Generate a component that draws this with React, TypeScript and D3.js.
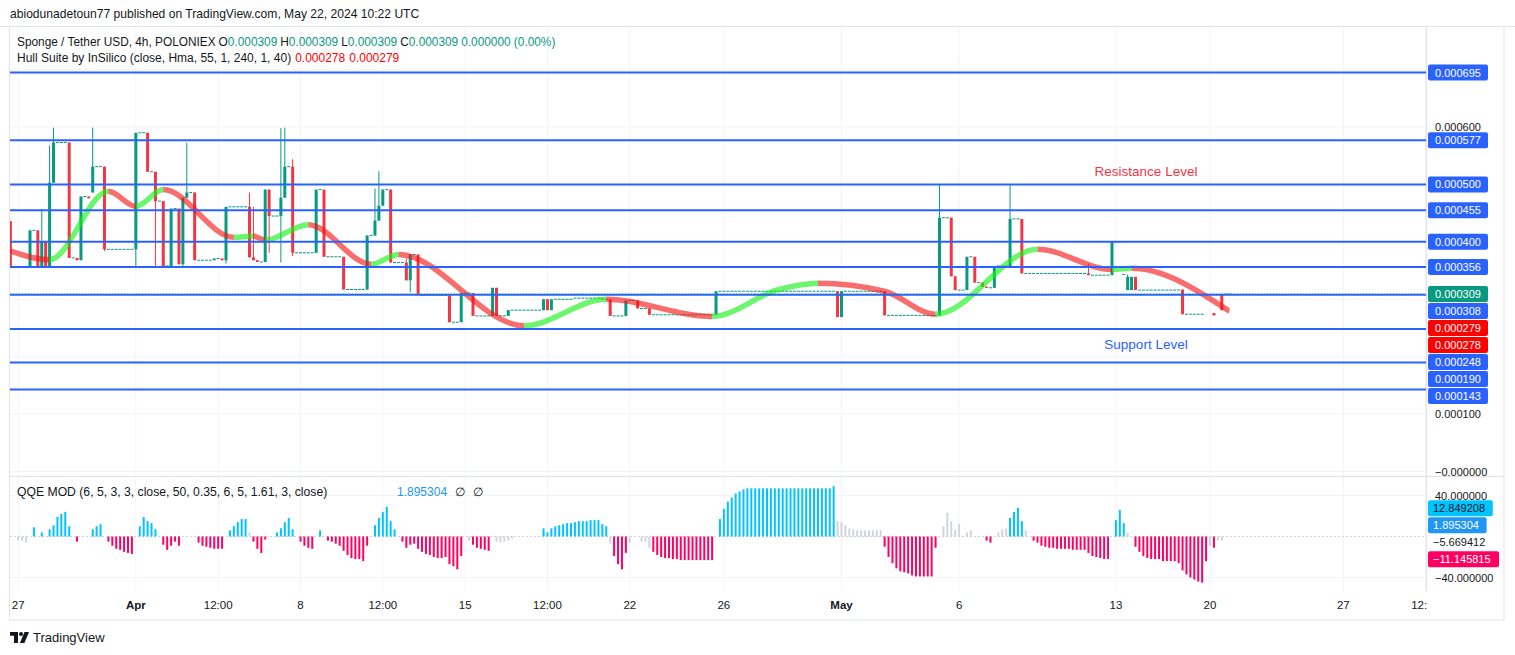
import React from 'react';
import * as d3 from 'd3';

// all prices are in units of 0.000001 USDT
const levelPrices = [695, 577, 500, 455, 400, 356, 308, 248, 190, 143];
const lastPrice = 309;
const hullLast = [279, 278];
const priceTicks = [700, 600, 500, 400, 300, 200, 100, 0];
const priceTickLabels = ['0.000700', '0.000600', '0.000500', '0.000400', '0.000300', '0.000200', '0.000100', '\u22120.000000'];

// bar index (4h bars) where each time label sits
const timeTickBars = [0, 30, 51, 72, 93, 114, 135, 156, 180, 210, 240, 280, 304, 338, 359];
const timeTickLabels = ['27', 'Apr', '12:00', '8', '12:00', '15', '12:00', '22', '26', 'May', '6', '13', '20', '27', '12:00'];
const monthLabels = ['Apr', 'May'];

// [bar, open, high, low, close]
const candles = [
  [-2, 436, 436, 357, 357], [3, 356, 420, 356, 420], [5, 420, 420, 356, 356], [6, 356, 457, 356, 401],
  [7, 401, 401, 356, 356], [8, 356, 568, 356, 503], [9, 503, 599, 503, 573], [13, 573, 573, 372, 372],
  [15, 372, 372, 368, 368], [16, 368, 479, 368, 479], [18, 479, 479, 476, 476], [19, 486, 599, 486, 531],
  [22, 531, 531, 384, 387], [30, 387, 590, 358, 590], [33, 590, 590, 522, 522], [35, 522, 522, 356, 471],
  [37, 471, 471, 358, 358], [39, 358, 458, 358, 458], [41, 458, 458, 361, 361], [42, 361, 477, 358, 477],
  [43, 477, 573, 477, 486], [45, 486, 486, 368, 368], [50, 368, 371, 368, 371], [52, 371, 371, 368, 368],
  [53, 368, 461, 362, 461], [59, 461, 486, 373, 373], [60, 373, 461, 368, 368], [61, 368, 368, 365, 365],
  [63, 365, 491, 365, 491], [64, 491, 491, 381, 445], [67, 445, 598, 364, 477], [68, 477, 599, 477, 531],
  [70, 531, 544, 375, 381], [76, 381, 491, 381, 491], [78, 491, 491, 374, 374], [83, 374, 374, 317, 317],
  [89, 317, 411, 317, 411], [91, 411, 493, 411, 437], [92, 437, 523, 437, 463], [93, 463, 491, 463, 491],
  [95, 491, 491, 364, 364], [99, 364, 371, 333, 333], [100, 333, 378, 312, 378], [102, 378, 378, 307, 307],
  [110, 307, 307, 260, 260], [113, 260, 311, 260, 311], [116, 311, 311, 271, 271], [121, 271, 320, 271, 320],
  [122, 320, 320, 271, 271], [125, 271, 281, 271, 281], [134, 281, 300, 281, 300], [135, 300, 300, 281, 281],
  [136, 281, 300, 281, 300], [149, 302, 302, 300, 300], [151, 300, 300, 271, 271], [155, 271, 298, 271, 298],
  [158, 298, 298, 284, 284], [161, 284, 284, 273, 273], [178, 273, 314, 273, 314], [209, 314, 314, 269, 269],
  [210, 269, 314, 269, 314], [221, 314, 314, 272, 272], [235, 272, 500, 272, 442], [238, 442, 442, 340, 340],
  [239, 340, 340, 316, 316], [242, 316, 374, 316, 374], [244, 374, 374, 329, 329], [246, 329, 329, 322, 322],
  [247, 322, 322, 320, 320], [249, 320, 358, 320, 358], [253, 355, 500, 355, 440], [256, 440, 440, 345, 345],
  [273, 345, 362, 342, 342], [279, 342, 400, 342, 400], [283, 316, 343, 316, 339], [284, 316, 339, 316, 339],
  [285, 339, 339, 316, 316], [297, 317, 317, 274, 274], [305, 276, 276, 272, 272], [307, 309, 309, 281, 281],
];

// runs of untraded bars (open = high = low = close): [firstBar, lastBar, price]
const flatRuns = [
  [-1, 2, 356], [4, 4, 420], [10, 12, 573], [14, 14, 372], [17, 17, 479], [20, 21, 531], [23, 29, 387],
  [31, 32, 590], [34, 34, 522], [36, 36, 471], [38, 38, 358], [40, 40, 458], [44, 44, 486], [46, 49, 368],
  [51, 51, 371], [54, 58, 461], [62, 62, 365], [65, 66, 445], [69, 69, 531], [71, 75, 381], [77, 77, 491],
  [79, 82, 374], [84, 88, 317], [90, 90, 411], [94, 94, 491], [96, 98, 364], [101, 101, 378], [103, 109, 307],
  [111, 112, 260], [114, 115, 311], [117, 120, 271], [123, 124, 271], [126, 133, 281], [137, 141, 300],
  [142, 148, 302], [150, 150, 300], [152, 154, 271], [156, 157, 298], [159, 160, 284], [162, 177, 273],
  [179, 208, 314], [211, 220, 314], [222, 234, 272], [236, 237, 442], [240, 241, 316], [243, 243, 374],
  [245, 245, 329], [248, 248, 320], [250, 252, 358], [254, 255, 440], [257, 272, 345], [274, 278, 342],
  [280, 281, 400], [282, 282, 343], [286, 296, 316], [298, 302, 274], [308, 309, 309],
];

// Hull Suite turning points: [bar, value]
const hullPoints = [
  [-2, 384], [8, 369], [23, 488], [30, 462], [37, 491], [55, 408], [60, 410], [63, 403], [74, 430],
  [90, 361], [97, 378], [129, 254], [150, 300], [177, 270], [194, 317], [204, 328], [221, 314],
  [234, 274], [260, 387], [279, 352], [284, 354], [309, 279],
];

// QQE MOD histogram, runs of consecutive bars
const qqeRuns: { start: number; kind: string; values: number[] }[] = [
  { start: 0, kind: 'nt', values: [-4, -4, -6] },
  { start: 4, kind: 'up', values: [9] },
  { start: 6, kind: 'up', values: [4] },
  { start: 8, kind: 'up', values: [7, 11, 19, 22, 24, 10] },
  { start: 15, kind: 'dn', values: [-5] },
  { start: 19, kind: 'up', values: [7, 10, 12] },
  { start: 23, kind: 'dn', values: [-5, -9, -12, -13, -15, -16, -17] },
  { start: 31, kind: 'up', values: [10, 19, 15, 13, 7] },
  { start: 37, kind: 'dn', values: [-8, -13, -9, -5, -9] },
  { start: 46, kind: 'dn', values: [-6, -9, -10, -11, -12, -12, -12] },
  { start: 54, kind: 'up', values: [6, 10, 14, 17, 17] },
  { start: 59, kind: 'nt', values: [4] },
  { start: 60, kind: 'dn', values: [-5, -12, -16, -3] },
  { start: 66, kind: 'up', values: [4, 8, 14, 18, 7] },
  { start: 72, kind: 'dn', values: [-5, -9, -11, -12] },
  { start: 77, kind: 'up', values: [6] },
  { start: 79, kind: 'dn', values: [-4, -5, -7, -9, -14, -18, -21, -22, -22, -24, -9] },
  { start: 91, kind: 'up', values: [11, 18, 24, 29, 15, 7] },
  { start: 98, kind: 'dn', values: [-5, -11, -8, -7, -12, -15, -17, -18, -20, -21, -21, -20, -27, -29, -32, -19] },
  { start: 115, kind: 'nt', values: [-4] },
  { start: 116, kind: 'dn', values: [-8, -11, -12, -13, -14] },
  { start: 122, kind: 'nt', values: [-5, -6, -5, -4, -2] },
  { start: 134, kind: 'up', values: [8, 4, 8, 10, 11, 12, 13, 13, 14, 15, 15, 15, 16, 16, 16, 12, 10] },
  { start: 151, kind: 'nt', values: [-7] },
  { start: 152, kind: 'dn', values: [-19, -27, -32, -16] },
  { start: 156, kind: 'nt', values: [-6] },
  { start: 159, kind: 'nt', values: [-5, -5, -11] },
  { start: 162, kind: 'dn', values: [-15, -18, -20, -21, -21, -22, -22, -23, -23, -23, -23, -23, -23, -23, -23, -23] },
  { start: 179, kind: 'up', values: [17, 27, 34, 38, 42, 44, 46, 47, 47, 47, 47, 47, 47, 47, 47, 47, 47, 47, 47, 47, 47, 47, 47, 47, 47, 47, 47, 47, 47, 49] },
  { start: 209, kind: 'nt', values: [15, 14, 11, 8, 7, 6, 6, 6, 6, 6, 6, 6] },
  { start: 221, kind: 'dn', values: [-10, -20, -26, -31, -34, -35, -36, -38, -39, -39, -39, -39, -39, -11] },
  { start: 236, kind: 'nt', values: [10, 23, 15, 7, 12] },
  { start: 242, kind: 'nt', values: [4, 6] },
  { start: 247, kind: 'dn', values: [-4, -6] },
  { start: 250, kind: 'nt', values: [4, 7, 8] },
  { start: 253, kind: 'up', values: [18, 24, 28, 15] },
  { start: 257, kind: 'nt', values: [6] },
  { start: 259, kind: 'dn', values: [-4, -6, -9, -10, -11, -11, -12, -12, -12, -12, -13, -13, -13, -13, -16, -19, -20, -21, -22, -22] },
  { start: 280, kind: 'up', values: [16, 26, 13] },
  { start: 283, kind: 'nt', values: [4] },
  { start: 285, kind: 'dn', values: [-10, -15, -19, -21, -22, -22, -22, -24, -24, -24, -24, -26, -33, -37, -40, -42, -44, -45, -24] },
  { start: 304, kind: 'nt', values: [-9] },
  { start: 305, kind: 'dn', values: [-11] },
  { start: 306, kind: 'nt', values: [-4, -4] },
];
const qqeTicks = [40, -40];
const qqeLevel = -5.669412;
const qqeMarkers = [12.849208, 1.895304, -11.145815];

const FONT = '"Liberation Sans", Arial, sans-serif';
const TEXT = '#131722';
const UP = '#089981';
const DOWN = '#f23645';
const LEVEL = '#2962ff';
const GRID = '#f0f3fa';
const BORDER = '#e0e3eb';
const qqeColor: Record<string, string> = { up: '#00c3ff', dn: '#ff0062', nt: '#d1d4dc' };

const fmt = (p: number) => (p / 1e6).toFixed(6);
const signed = (v: number) => (v < 0 ? '\u2212' : '') + Math.abs(v).toFixed(6);

export default function App() {
  const plotL = 10, plotR = 1426, mainT = 27, mainB = 476, qqeB = 591, frameR = 1504, frameB = 620;
  const boxX = 1428, labelH = 17;

  const x = d3.scaleLinear().domain([-2.1, 359.1]).range([plotL, plotR]);
  const y = d3.scaleLinear().domain([0, 695]).range([471.5, 72.5]);
  const yq = d3.scaleLinear().domain([-40, 40]).range([577.5, 495.5]);

  // price axis markers, pushed down so they do not overlap
  const markers = [
    ...levelPrices.map(p => ({ p, bg: LEVEL })),
    { p: lastPrice, bg: UP },
    ...hullLast.map(p => ({ p, bg: '#ff0000' })),
  ].map(m => ({ ...m, ly: y(m.p) }))
    .sort((a, b) => a.ly - b.ly);
  let prev = -Infinity;
  markers.forEach(m => { m.ly = Math.max(m.ly, prev + labelH); prev = m.ly; });

  const visibleTicks = priceTicks
    .map((p, i) => ({ p, label: priceTickLabels[i], ty: y(p) }))
    .filter(t => markers.every(m => Math.abs(m.ly - t.ty) > 12));

  // QQE markers, spread around the fixed level label
  const qLevelY = yq(qqeLevel);
  const qm = qqeMarkers.map((v, i) => ({ v, i, ly: yq(v) }));
  const above = qm.filter(m => m.v > qqeLevel).sort((a, b) => b.ly - a.ly);
  const below = qm.filter(m => m.v < qqeLevel).sort((a, b) => a.ly - b.ly);
  let edge = qLevelY;
  above.forEach(m => { m.ly = Math.min(m.ly, edge - labelH); edge = m.ly; });
  edge = qLevelY;
  below.forEach(m => { m.ly = Math.max(m.ly, edge + labelH); edge = m.ly; });
  const qBg = ['#00c3ff', '#2196f3', '#ff0062'];
  const qFg = [TEXT, '#ffffff', '#ffffff'];

  const hullLine = d3.line<number[]>()
    .x(d => x(d[0]))
    .y(d => y(d[1]))
    .curve(d3.curveMonotoneX);
  const hullPath = hullLine(hullPoints) || '';

  const bodyW = 3;

  return (
    <svg width={1515} height={655} style={{ position: 'absolute', left: 0, top: 0, background: '#fff' }}
      fontFamily={FONT}>
      <defs>
        <clipPath id="main-clip"><rect x={plotL} y={mainT} width={plotR - plotL} height={mainB - mainT} /></clipPath>
        <clipPath id="time-clip"><rect x={plotL} y={qqeB} width={plotR + 1 - plotL} height={frameB - qqeB} /></clipPath>
        {hullPoints.slice(1).map((pt, i) => (
          <clipPath id={`hull-${i}`} key={i}>
            <rect x={x(hullPoints[i][0])} y={mainT} width={x(pt[0]) - x(hullPoints[i][0])} height={mainB - mainT} />
          </clipPath>
        ))}
      </defs>
      <rect width={1515} height={655} fill="#fff" />

      <text x={10} y={18} fontSize={12.1} fill={TEXT}>abiodunadetoun77 published on TradingView.com, May 22, 2024 10:22 UTC</text>

      {/* frame */}
      <line x1={0} x2={1515} y1={26.5} y2={26.5} stroke={BORDER} />
      <rect x={9.5} y={26.5} width={frameR - 9.5} height={frameB - 26.5} fill="none" stroke={BORDER} />

      {/* grid */}
      {timeTickBars.map((b, i) => (
        <line key={'vg' + i} x1={x(b)} x2={x(b)} y1={mainT} y2={qqeB} stroke={GRID} />
      ))}
      {priceTicks.map((p, i) => (
        <line key={'hg' + i} x1={plotL} x2={plotR} y1={y(p)} y2={y(p)} stroke={GRID} />
      ))}
      {qqeTicks.map((v, i) => (
        <line key={'qg' + i} x1={plotL} x2={plotR} y1={yq(v)} y2={yq(v)} stroke={GRID} />
      ))}

      {/* main pane */}
      <g clipPath="url(#main-clip)">
        {flatRuns.map((r, i) => d3.range(r[0], r[1] + 1).map(b => (
          <rect key={`f${i}-${b}`} x={x(b) - bodyW / 2} y={y(r[2]) - 0.5} width={bodyW} height={1} fill={UP} />
        )))}
        {candles.map((c, i) => {
          const [b, o, h, l, cl] = c;
          const col = cl >= o ? UP : DOWN;
          const top = y(Math.max(o, cl));
          const bot = y(Math.min(o, cl));
          return (
            <g key={'c' + i}>
              <line x1={x(b)} x2={x(b)} y1={y(h)} y2={y(l)} stroke={col} strokeWidth={1} />
              <rect x={x(b) - bodyW / 2} y={top} width={bodyW} height={Math.max(1, bot - top)} fill={col} />
            </g>
          );
        })}
        {hullPoints.slice(1).map((pt, i) => (
          <path key={'h' + i} d={hullPath} clipPath={`url(#hull-${i})`} fill="none"
            stroke={pt[1] >= hullPoints[i][1] ? 'rgba(20,240,20,0.62)' : 'rgba(245,20,20,0.62)'} strokeWidth={5.5} />
        ))}
        {levelPrices.map((p, i) => (
          <line key={'lv' + i} x1={plotL} x2={plotR} y1={y(p)} y2={y(p)} stroke={LEVEL} strokeWidth={2} />
        ))}
        <line x1={plotL} x2={plotR} y1={y(lastPrice)} y2={y(lastPrice)} stroke={UP} strokeWidth={1} strokeDasharray="1 2" />
        <text x={1146} y={176} textAnchor="middle" fontSize={13.5} fill={DOWN}>Resistance Level</text>
        <text x={1146} y={349} textAnchor="middle" fontSize={13.5} fill={LEVEL}>Support Level</text>
      </g>

      {/* legends */}
      <text x={17} y={46} fontSize={11.85} fill={TEXT}>
        Sponge / Tether USD, 4h, POLONIEX
        <tspan dx={3}>O</tspan><tspan fill={UP}>0.000309</tspan>
        <tspan dx={3}>H</tspan><tspan fill={UP}>0.000309</tspan>
        <tspan dx={3}>L</tspan><tspan fill={UP}>0.000309</tspan>
        <tspan dx={3}>C</tspan><tspan fill={UP}>0.000309</tspan>
        <tspan dx={3} fill={UP}>0.000000 (0.00%)</tspan>
      </text>
      <text x={17} y={62} fontSize={12} fill={TEXT}>
        Hull Suite by InSilico (close, Hma, 55, 1, 240, 1, 40)
        <tspan dx={4} fill="#ff0000">{fmt(hullLast[1])}</tspan>
        <tspan dx={4} fill="#ff0000">{fmt(hullLast[0])}</tspan>
      </text>

      {/* price axis */}
      <line x1={plotR + 0.5} x2={plotR + 0.5} y1={mainT} y2={qqeB} stroke={BORDER} />
      {visibleTicks.map((t, i) => (
        <text key={'pt' + i} x={boxX + 7} y={t.ty + 4} fontSize={11} fill={TEXT}>{t.label}</text>
      ))}
      {markers.map((m, i) => (
        <g key={'pm' + i}>
          <rect x={boxX} y={m.ly - 8} width={60} height={16} rx={2} fill={m.bg} />
          <text x={boxX + 7} y={m.ly + 4} fontSize={11} fill="#fff">{fmt(m.p)}</text>
        </g>
      ))}

      {/* pane separator */}
      <line x1={plotL} x2={frameR} y1={mainB + 0.5} y2={mainB + 0.5} stroke={BORDER} />

      {/* QQE pane */}
      <line x1={plotL} x2={plotR} y1={yq(0)} y2={yq(0)} stroke="#d1d4dc" strokeDasharray="2 2" />
      {qqeRuns.map((r, i) => r.values.map((v, j) => (
        <rect key={`q${i}-${j}`} x={x(r.start + j) - 1} y={Math.min(yq(0), yq(v))} width={2}
          height={Math.abs(yq(v) - yq(0))} fill={qqeColor[r.kind]} />
      )))}
      <text x={17} y={496} fontSize={12.2} fill={TEXT}>QQE MOD (6, 5, 3, 3, close, 50, 0.35, 6, 5, 1.61, 3, close)</text>
      <text x={397} y={496} fontSize={12} fill="#2196f3">{qqeMarkers[1].toFixed(6)}
        <tspan dx={8} fill={TEXT}>{'\u2205'}</tspan>
        <tspan dx={8} fill={TEXT}>{'\u2205'}</tspan>
      </text>
      {qqeTicks.map((v, i) => (
        <text key={'qt' + i} x={boxX + 7} y={yq(v) + 4} fontSize={11} fill={TEXT}>{signed(v)}</text>
      ))}
      <text x={boxX + 5} y={qLevelY + 4} fontSize={11} fill={TEXT}>{signed(qqeLevel)}</text>
      {qm.map(m => {
        const label = signed(m.v);
        return (
          <g key={'qm' + m.i}>
            <rect x={boxX} y={m.ly - 8} width={label.length * 6.2 + 9} height={16} rx={2} fill={qBg[m.i]} />
            <text x={boxX + 5} y={m.ly + 4} fontSize={11} fill={qFg[m.i]}>{label}</text>
          </g>
        );
      })}

      {/* time axis */}
      <g clipPath="url(#time-clip)">
        {timeTickBars.map((b, i) => (
          <text key={'tt' + i} x={x(b)} y={609} textAnchor="middle" fontSize={11.5}
            fontWeight={monthLabels.includes(timeTickLabels[i]) ? 700 : 400} fill={TEXT}>{timeTickLabels[i]}</text>
        ))}
      </g>

      {/* TradingView logo */}
      <g fill={TEXT}>
        <path d="M10 632h8v11h-4v-7.2h-4z" />
        <circle cx={21} cy={634} r={2} />
        <path d="M24.5 632h4.5l-4.6 11h-4.5z" />
      </g>
      <text x={33} y={642} fontSize={13} fill={TEXT}>TradingView</text>
    </svg>
  );
}
